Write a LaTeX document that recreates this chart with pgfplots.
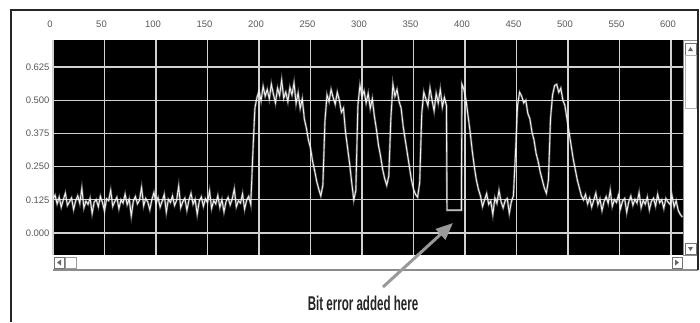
\documentclass[border=0pt]{standalone}
\usepackage{pgfplots}
\usepackage{pgfplotstable}
\usepackage{graphicx}
\pgfplotsset{compat=1.18}
\usetikzlibrary{arrows.meta}
\usepackage{fontspec}
\setmainfont{Liberation Sans}
\pgfplotstableread{
x y
0 0.128
2 0.142
4 0.110
6 0.135
8 0.098
10 0.125
12 0.150
14 0.104
16 0.118
18 0.132
20 0.089
22 0.121
24 0.140
26 0.112
28 0.168
30 0.095
32 0.120
34 0.108
36 0.131
38 0.074
40 0.117
42 0.126
44 0.099
46 0.138
48 0.115
50 0.083
52 0.129
54 0.122
56 0.160
58 0.101
60 0.119
62 0.134
64 0.092
66 0.125
68 0.113
70 0.146
72 0.107
74 0.128
76 0.065
78 0.121
80 0.137
82 0.110
84 0.124
86 0.171
88 0.103
90 0.130
92 0.117
94 0.088
96 0.126
98 0.152
100 0.112
102 0.133
104 0.098
106 0.120
108 0.145
110 0.079
112 0.127
114 0.115
116 0.139
118 0.104
120 0.123
122 0.176
124 0.096
126 0.118
128 0.131
130 0.086
132 0.124
134 0.149
136 0.109
138 0.127
140 0.071
142 0.120
144 0.136
146 0.101
148 0.129
150 0.114
152 0.158
154 0.093
156 0.122
158 0.110
160 0.141
162 0.097
164 0.126
166 0.080
168 0.119
170 0.134
172 0.106
174 0.128
176 0.165
178 0.099
180 0.121
182 0.113
184 0.147
186 0.090
188 0.124
190 0.138
192 0.108
194 0.300
196 0.470
198 0.510
200 0.535
202 0.498
204 0.552
206 0.515
208 0.540
210 0.505
212 0.560
214 0.522
216 0.490
218 0.545
220 0.518
222 0.575
224 0.508
226 0.530
228 0.495
230 0.548
232 0.520
234 0.565
236 0.488
238 0.527
240 0.470
242 0.505
244 0.430
246 0.395
248 0.350
250 0.320
252 0.270
254 0.235
256 0.195
258 0.165
260 0.140
262 0.180
264 0.420
266 0.520
268 0.495
270 0.540
272 0.510
274 0.485
276 0.530
278 0.500
280 0.455
282 0.470
284 0.380
286 0.320
288 0.260
290 0.190
292 0.125
294 0.160
296 0.480
298 0.555
300 0.515
302 0.535
304 0.490
306 0.525
308 0.470
310 0.505
312 0.440
314 0.390
316 0.330
318 0.290
320 0.240
322 0.205
324 0.180
326 0.215
328 0.430
330 0.560
332 0.515
334 0.540
336 0.495
338 0.470
340 0.400
342 0.350
344 0.300
346 0.250
348 0.200
350 0.165
352 0.145
354 0.135
356 0.190
358 0.450
360 0.530
362 0.505
364 0.480
366 0.545
368 0.500
370 0.460
372 0.525
374 0.490
376 0.540
378 0.475
380 0.510
382 0.480
382.5 0.086
388 0.086
396.5 0.086
397 0.560
399 0.540
401 0.500
403 0.440
405 0.380
407 0.310
409 0.250
411 0.200
413 0.165
415 0.140
417 0.100
419 0.125
421 0.148
423 0.108
425 0.120
427 0.070
429 0.132
431 0.112
433 0.160
435 0.118
437 0.095
439 0.122
441 0.130
443 0.075
445 0.118
447 0.140
449 0.300
451 0.480
453 0.530
455 0.515
457 0.490
459 0.500
461 0.450
463 0.430
465 0.380
467 0.350
469 0.300
471 0.270
473 0.230
475 0.200
477 0.170
479 0.150
481 0.200
483 0.430
485 0.520
487 0.555
489 0.560
491 0.530
493 0.545
495 0.500
497 0.480
499 0.430
501 0.380
503 0.330
505 0.280
507 0.240
509 0.200
511 0.170
513 0.140
515 0.125
517 0.145
519 0.110
521 0.132
523 0.098
525 0.124
527 0.150
529 0.107
531 0.128
533 0.085
535 0.119
537 0.137
539 0.112
541 0.160
543 0.101
545 0.126
547 0.115
549 0.143
551 0.092
553 0.121
555 0.130
557 0.078
559 0.118
561 0.139
563 0.105
565 0.127
567 0.113
569 0.152
571 0.096
573 0.123
575 0.109
577 0.135
579 0.088
581 0.120
583 0.131
585 0.102
587 0.145
589 0.114
591 0.125
593 0.093
595 0.130
597 0.117
599 0.108
601 0.140
603 0.099
605 0.121
607 0.085
609 0.070
611 0.060
}\signal
\begin{document}
\begin{tikzpicture}[x=1bp,y=1bp]
\useasboundingbox (0,0) rectangle (700,-322);
\fill[white] (0,0) rectangle (700,-322);
\begin{axis}[
  at={(53bp,-255bp)}, anchor=south west,
  width=630bp, height=215bp, scale only axis,
  xmin=0, xmax=611.65, ymin=-0.0828, ymax=0.7267,
  axis background/.style={fill=black},
  axis line style={draw=none},
  xtick={0,50,100,150,200,250,300,350,400,450,500,550,600},
  ytick={0,0.125,0.25,0.375,0.5,0.625},
  yticklabels={0.000,0.125,0.250,0.375,0.500,0.625},
  xticklabel pos=right,
  major tick length=0pt,
  tick style={draw=none},
  grid=major,
  major grid style={draw=black!18, line width=1.3bp},
  /pgf/number format/assume math mode=true,
  ticklabel style={font=\fontsize{9.5}{10}\selectfont, text=black!65},
  xticklabel style={xshift=-3bp, yshift=9bp},
  clip=true,
]
\addplot[draw=white, opacity=0.35, line width=2.2bp, mark=none] table[x=x,y=y] {\signal};
\addplot[draw=white!90!gray, line width=0.9bp, mark=none] table[x=x,y=y] {\signal};
\end{axis}
% right scrollbar
\fill[white] (683,-40) rectangle (697,-270);
\draw[black!45, line width=0.6bp] (683,-40) rectangle (697,-255);
\draw[black!55, line width=0.6bp] (685,-43) rectangle (696,-55);
\fill[black!60] (688,-51) -- (693,-51) -- (690.5,-47) -- cycle;
\draw[black!30, line width=0.6bp] (685,-55) rectangle (696,-108);
\draw[black!55, line width=0.6bp] (685,-243) rectangle (696,-254);
\fill[black!60] (688,-247) -- (693,-247) -- (690.5,-251) -- cycle;
% bottom scrollbar
\fill[white] (53,-255) rectangle (683,-269);
\draw[black!55, line width=0.6bp] (54,-257) rectangle (64,-268);
\fill[black!60] (61,-259.5) -- (61,-265.5) -- (57,-262.5) -- cycle;
\draw[black!40, line width=0.6bp] (65,-257) rectangle (76,-268);
\draw[black!55, line width=0.6bp] (672,-257) rectangle (682,-268);
\fill[black!60] (675,-259.5) -- (675,-265.5) -- (679,-262.5) -- cycle;
\draw[black!45, line width=1.2bp] (53,-270) -- (698,-270);
% outer frame
\draw[black!85, line width=1.4bp] (11,-322) -- (11,-10) -- (698,-10) -- (698,-270);
% annotation
\draw[black!40, line width=3bp, -{Triangle[length=17bp,width=14bp]}] (383,-287) -- (453,-223);
\node[text=black!85, font=\bfseries\fontsize{20}{22}\selectfont] at (363,-303) {\scalebox{0.58}[1]{Bit error added here}};
\end{tikzpicture}
\end{document}
